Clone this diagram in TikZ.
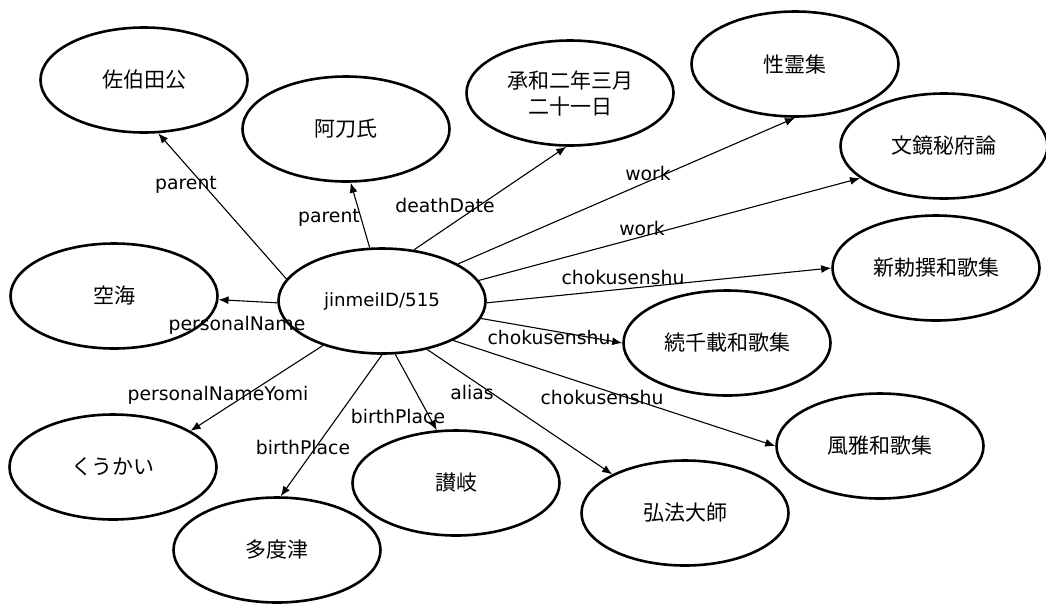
\documentclass[tikz,border=0pt]{standalone}
\usepackage{fontspec}
\setmainfont{DejaVu Sans}
\newfontfamily\cjk{Noto Sans CJK JP}
\usetikzlibrary{shapes.geometric,arrows.meta}
\begin{document}
\begin{tikzpicture}[x=1pt,y=-1pt,
  ent/.style={ellipse,draw,line width=2.6pt,minimum width=207pt,minimum height=105pt,inner sep=0pt,align=center,font=\cjk\fontsize{21}{26}\selectfont},
  hub/.style={ent,font=\fontsize{18.2}{21}\selectfont},
  rel/.style={line width=1.1pt,-{Latex[length=10pt,width=8pt]}},
  lbl/.style={inner sep=0pt,font=\fontsize{18.8}{21}\selectfont}]
\useasboundingbox (0,0) rectangle (1046,603);
\fill[white] (0,0) rectangle (1046,603);
% nodes
\node[hub] (c) at (382,301) {jinmeiID/515};
\node[ent] (n1) at (144,80) {佐伯田公};
\node[ent] (n2) at (346,129) {阿刀氏};
\node[ent] (n3) at (570,93) {承和二年三月\\二十一日};
\node[ent] (n4) at (795,64) {性霊集};
\node[ent] (n5) at (944,146) {文鏡秘府論};
\node[ent] (n6) at (936,268) {新勅撰和歌集};
\node[ent] (n7) at (727,343) {続千載和歌集};
\node[ent] (n8) at (880,446) {風雅和歌集};
\node[ent] (n9) at (685,513) {弘法大師};
\node[ent] (n10) at (456,483) {讃岐};
\node[ent] (n11) at (277,550) {多度津};
\node[ent] (n12) at (113,467) {くうかい};
\node[ent] (n13) at (114,296) {空海};
% edges
\draw[rel] (c.167.8) -- (n1.285.7);
\draw[rel] (c.103.8) -- (n2.275.1);
\draw[rel] (c.58.7) -- (n3.266);
\draw[rel] (c.26.9) -- (n4.270);
\draw[rel] (c.12.4) -- (n5.201.6);
\draw[rel] (c.359.5) -- (n6.180);
\draw[rel] (c.350.8) -- (n7.180);
\draw[rel] (c.331.7) -- (n8.180);
\draw[rel] (c.313.3) -- (n9.152.8);
\draw[rel] (c.284.7) -- (n10.110.4);
\draw[rel] (c.270) -- (n11.86.9);
\draw[rel] (c.217.2) -- (n12.25.7);
\draw[rel] (c.181) -- (n13.358);
% labels
\node[lbl] (l1) at (186,185) {parent};
\node[lbl] (l2) at (329,218) {parent};
\node[lbl] (l3) at (445,205) {deathDate};
\node[lbl] (l4) at (648,173) {work};
\node[lbl] (l5) at (642,228) {work};
\node[lbl] (l6) at (623,277) {chokusenshu};
\node[lbl] (l7) at (549,337) {chokusenshu};
\node[lbl] (l8) at (602,397) {chokusenshu};
\node[lbl] (l9) at (472,392) {alias};
\node[lbl] (l10) at (398,416) {birthPlace};
\node[lbl] (l11) at (303,447) {birthPlace};
\node[lbl] (l12) at (218,395) {personalNameYomi};
\node[lbl] (l13) at (237,325) {personalName};
\end{tikzpicture}
\end{document}
